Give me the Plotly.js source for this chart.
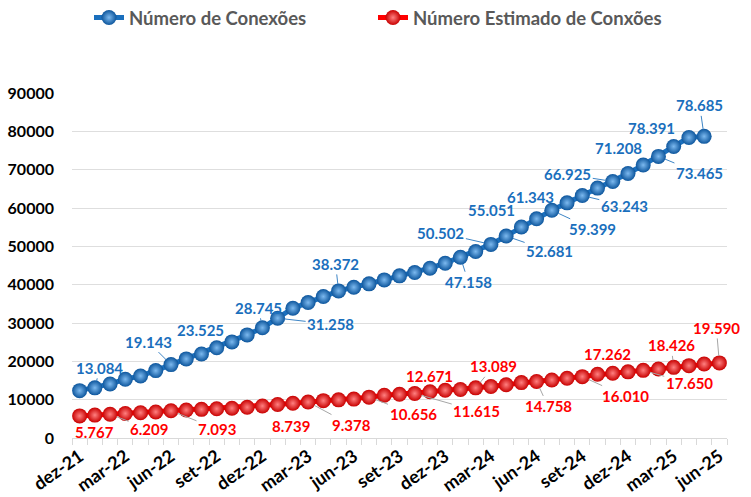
<!DOCTYPE html>
<html>
<head>
<meta charset="utf-8">
<script src="https://cdn.plot.ly/plotly-3.0.1.min.js"></script>
<style>html,body{margin:0;padding:0;background:#fff;}#chart{width:751px;height:497px;}</style>
</head>
<body>
<div id="chart"></div>
<script>
const months = ["dez-21","jan-22","fev-22","mar-22","abr-22","mai-22","jun-22","jul-22","ago-22","set-22","out-22","nov-22",
"dez-22","jan-23","fev-23","mar-23","abr-23","mai-23","jun-23","jul-23","ago-23","set-23","out-23","nov-23",
"dez-23","jan-24","fev-24","mar-24","abr-24","mai-24","jun-24","jul-24","ago-24","set-24","out-24","nov-24",
"dez-24","jan-25","fev-25","mar-25","abr-25","mai-25","jun-25"];
const shownTicks = ["dez-21","mar-22","jun-22","set-22","dez-22","mar-23","jun-23","set-23","dez-23","mar-24","jun-24","set-24","dez-24","mar-25","jun-25"];

const conexoes = [12350,13084,14100,15330,16190,17580,19143,20630,21930,23525,25070,26890,
28745,31258,33860,35330,36900,38372,39340,40210,41250,42300,43170,44300,
45600,47158,48650,50502,52681,55051,57180,59399,61343,63243,65190,66925,
69010,71208,73465,76060,78391,78685];

const estimado = [5767,5980,6209,6400,6600,6800,7093,7300,7480,7620,7780,8020,
8350,8739,9060,9378,9740,9950,10150,10656,11150,11400,11615,12050,
12450,12671,13089,13450,13900,14450,14758,15150,15580,16010,16630,16900,
17262,17650,18000,18426,18880,19300,19590];

const name1 = "Número de Conexões";
const name2 = "Número Estimado de Conxões";

// label placement (index, dx, dy, leader)
const blueLabels = [[1,5,-20,1],[6,-23,-23,1],[9,-16,-17.5,0],[12,-4,-20,1],[13,53,6,1],[17,-3,-27,1],
[25,8,25,1],[27,-50,-11.5,1],[28,43.5,15,1],[29,-30,-17,0],[31,41,19,1],[32,-36.5,-6,0],[33,42,10,1],
[35,-45,-7,1],[37,-25,-17,0],[38,41,17,1],[40,-37,-10,0],[41,-4.5,-31,1]];
const redLabels = [[0,15,16,0],[2,39,15,1],[6,46,18,1],[13,13.5,21,0],[15,43,23,1],[19,44,16.5,1],
[22,62,17.7,1],[25,-31,-13,0],[26,18,-21.5,1],[30,11.5,25,1],[33,43,19.5,1],[36,-20,-17.5,0],
[37,46,13,1],[39,-2.5,-22,1],[42,-3,-35,1]];

function fmt(v){ return String(v).replace(/\B(?=(\d{3})+(?!\d))/g, "."); }

const BLUE = "#1a6fbd", RED = "#ff0000";
const FONT = "Lato, 'Open Sans', sans-serif";

const traces = [
  {x: months.slice(0, conexoes.length), y: conexoes, name: name1, type: "scatter", mode: "lines+markers",
   line: {color: BLUE, width: 5}, legend: "legend",
   marker: {size: 15, color: "#0c559c", line: {width: 0}, gradient: {type: "radial", color: "#7cb9ef"}},
   hoverinfo: "skip"},
  {x: months.slice(0, estimado.length), y: estimado, name: name2, type: "scatter", mode: "lines+markers",
   line: {color: RED, width: 5}, legend: "legend2",
   marker: {size: 15, color: "#c80000", line: {width: 0}, gradient: {type: "radial", color: "#ff8080"}},
   hoverinfo: "skip"}
];

function makeAnn(series, labels, color, leaderColor){
  return labels.map(([i, dx, dy, lead]) => ({
    x: months[i], y: series[i], xref: "x", yref: "y",
    text: fmt(series[i]), showarrow: true, arrowhead: 0, arrowwidth: 1,
    arrowcolor: lead ? leaderColor : "rgba(0,0,0,0)", standoff: 7,
    ax: dx, ay: dy, axref: "pixel", ayref: "pixel",
    font: {family: FONT, size: 15, color: color, weight: "bold"}
  }));
}

const annotations = makeAnn(conexoes, blueLabels, BLUE, "#3d85c6").concat(makeAnn(estimado, redLabels, RED, "#a6a6a6"));

const legendBase = {orientation: "h", xref: "container", yref: "container", xanchor: "left",
           y: 1 - 18/497, yanchor: "middle",
           font: {family: FONT, size: 18.5, color: "#595959", weight: "bold"}, itemclick: false};

const layout = {
  width: 751, height: 497,
  margin: {l: 72, r: 24, t: 93, b: 59, pad: 0},
  paper_bgcolor: "#fff", plot_bgcolor: "#fff",
  font: {family: FONT, color: "#000"},
  showlegend: true,
  legend: Object.assign({}, legendBase, {x: 89/751}),
  legend2: Object.assign({}, legendBase, {x: 373/751}),
  xaxis: {type: "category", categoryorder: "array", categoryarray: months, automargin: false,
          range: [-0.5, months.length - 0.5],
          tickmode: "array", tickvals: months,
          ticktext: months.map(m => shownTicks.includes(m) ? m : ""),
          tickson: "boundaries", ticks: "outside", ticklen: 6, tickcolor: "#d9d9d9",
          showline: true, linecolor: "#d9d9d9", linewidth: 1, showgrid: false, zeroline: false,
          tickangle: -35, tickfont: {family: FONT, size: 18, color: "#000", weight: "bold"}},
  yaxis: {range: [0, 90000], tickmode: "linear", tick0: 0, dtick: 10000, tickformat: "d", automargin: false,
          showgrid: true, gridcolor: "#dedede", gridwidth: 1, zeroline: false, showline: false,
          ticks: "", ticklabelstandoff: 17,
          tickfont: {family: FONT, size: 16, color: "#000", weight: "bold"}},
  annotations: annotations
};

Plotly.newPlot("chart", traces, layout, {displayModeBar: false, staticPlot: true});
</script>
</body>
</html>
